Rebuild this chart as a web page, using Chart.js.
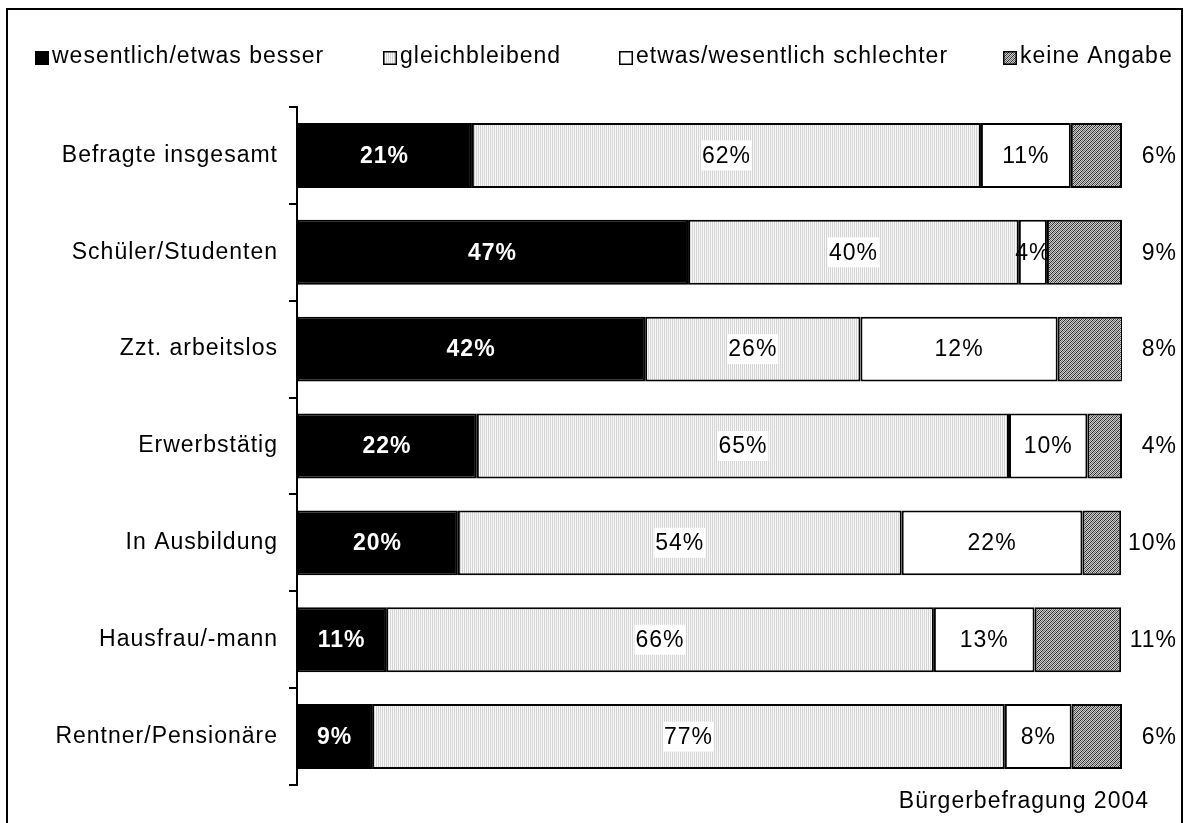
<!DOCTYPE html>
<html>
<head>
<meta charset="utf-8">
<script src="https://cdn.jsdelivr.net/npm/chart.js@4"></script>
<style>
  body { margin: 0; background: #fff; }
</style>
</head>
<body>
<canvas id="chart" width="1187" height="823"></canvas>
<script>
// Kategorien und Werte (Balkenbreiten, Beschriftungen wie gedruckt)
const categories = ['Befragte insgesamt', 'Schüler/Studenten', 'Zzt. arbeitslos', 'Erwerbstätig', 'In Ausbildung', 'Hausfrau/-mann', 'Rentner/Pensionäre']
const seriesNames = ['wesentlich/etwas besser', 'gleichbleibend', 'etwas/wesentlich schlechter', 'keine Angabe']

const besser     = [21.2, 47.4, 42.2, 21.8, 19.5, 10.8, 9.1]
const gleich     = [61.7, 40.1, 26.1, 64.5, 53.8, 66.4, 76.7]
const schlechter = [10.9, 3.4, 23.9, 9.5, 21.9, 12.2, 8.1]
const keine      = [6.2, 9.1, 7.9, 4.2, 4.7, 10.5, 6.1]

const besserText     = ['21%', '47%', '42%', '22%', '20%', '11%', '9%']
const gleichText     = ['62%', '40%', '26%', '65%', '54%', '66%', '77%']
const schlechterText = ['11%', '4%', '12%', '10%', '22%', '13%', '8%']
const keineText      = ['6%', '9%', '8%', '4%', '10%', '11%', '6%']

const FONT = '"Liberation Sans", Arial, sans-serif'
const canvas = document.getElementById('chart')
const ctx = canvas.getContext('2d')

// Musterfüllungen
function makePattern(size, draw) {
  const p = document.createElement('canvas')
  p.width = size
  p.height = size
  draw(p.getContext('2d'))
  return ctx.createPattern(p, 'repeat')
}
const dotFill = makePattern(2, g => {
  g.fillStyle = '#f8f8f8'
  g.fillRect(0, 0, 2, 2)
  g.fillStyle = '#d4d4d4'
  g.fillRect(0, 0, 1, 2)
})
const hatchFill = makePattern(4, g => {
  for (let x = 0; x < 4; x++) {
    for (let y = 0; y < 4; y++) {
      const k = (x + y) % 4
      g.fillStyle = k === 0 ? '#2a2a2a' : (k === 2 ? '#707070' : '#cccccc')
      g.fillRect(x, y, 1, 1)
    }
  }
})

const fills = ['#000000', dotFill, '#ffffff', hatchFill]
const texts = [besserText, gleichText, schlechterText, keineText]

const extras = {
  id: 'extras',
  beforeDraw(chart) {
    const c = chart.ctx
    c.save()
    c.fillStyle = '#fff'
    c.fillRect(0, 0, chart.width, chart.height)
    c.strokeStyle = '#000'
    c.lineWidth = 2
    c.strokeRect(7, 9, 1175, 840)

    // Legende
    const legendX = [35, 383, 619, 1003]
    c.font = '23px ' + FONT
    c.letterSpacing = '1px'
    c.textBaseline = 'middle'
    c.textAlign = 'left'
    seriesNames.forEach((name, i) => {
      c.fillStyle = fills[i]
      c.fillRect(legendX[i], 51, 14, 14)
      c.strokeStyle = '#000'
      c.lineWidth = 1.5
      c.strokeRect(legendX[i] + 0.75, 51.75, 12.5, 12.5)
      c.fillStyle = '#000'
      c.fillText(name, legendX[i] + 17, 57)
    })

    // Quelle
    c.textAlign = 'right'
    c.fillText('Bürgerbefragung 2004', 1149, 802)
    c.restore()
    c.letterSpacing = '1px'
  },
  afterDatasetsDraw(chart) {
    const c = chart.ctx
    c.save()
    c.letterSpacing = '1px'
    c.textBaseline = 'middle'
    chart.data.datasets.forEach((ds, i) => {
      const meta = chart.getDatasetMeta(i)
      meta.data.forEach((bar, j) => {
        const label = texts[i][j]
        let x = (bar.x + bar.base) / 2
        c.textAlign = 'center'
        if (i === 3) {
          x = chart.chartArea.right + 55
          c.textAlign = 'right'
        }
        c.font = (i === 0 ? 'bold ' : '') + '23px ' + FONT
        if (i === 1) {
          const w = c.measureText(label).width
          c.fillStyle = '#fff'
          c.fillRect(x - w / 2 - 1, bar.y - 15, w + 2, 30)
        }
        c.fillStyle = i === 0 ? '#fff' : '#000'
        c.fillText(label, x, bar.y + 1)
      })
    })
    c.restore()
  }
}

new Chart(canvas, {
  type: 'bar',
  data: {
    labels: categories,
    datasets: [besser, gleich, schlechter, keine].map((values, i) => ({
      label: seriesNames[i],
      data: values,
      backgroundColor: fills[i],
      borderColor: '#000',
      borderWidth: 2,
      borderSkipped: false,
      barPercentage: 0.67,
      categoryPercentage: 1
    }))
  },
  options: {
    indexAxis: 'y',
    responsive: false,
    animation: false,
    layout: { padding: { top: 107, right: 65, bottom: 38, left: 0 } },
    scales: {
      x: { stacked: true, display: false, min: 0, max: 100 },
      y: {
        stacked: true,
        afterFit: s => { s.width = 297 },
        ticks: { color: '#000', padding: 11, font: { family: FONT, size: 23 } },
        grid: { offset: true, drawOnChartArea: false, tickLength: 8, color: '#000', lineWidth: 2 },
        border: { color: '#000', width: 2 }
      }
    },
    plugins: {
      legend: { display: false },
      tooltip: { enabled: false }
    }
  },
  plugins: [extras]
})
</script>
</body>
</html>
